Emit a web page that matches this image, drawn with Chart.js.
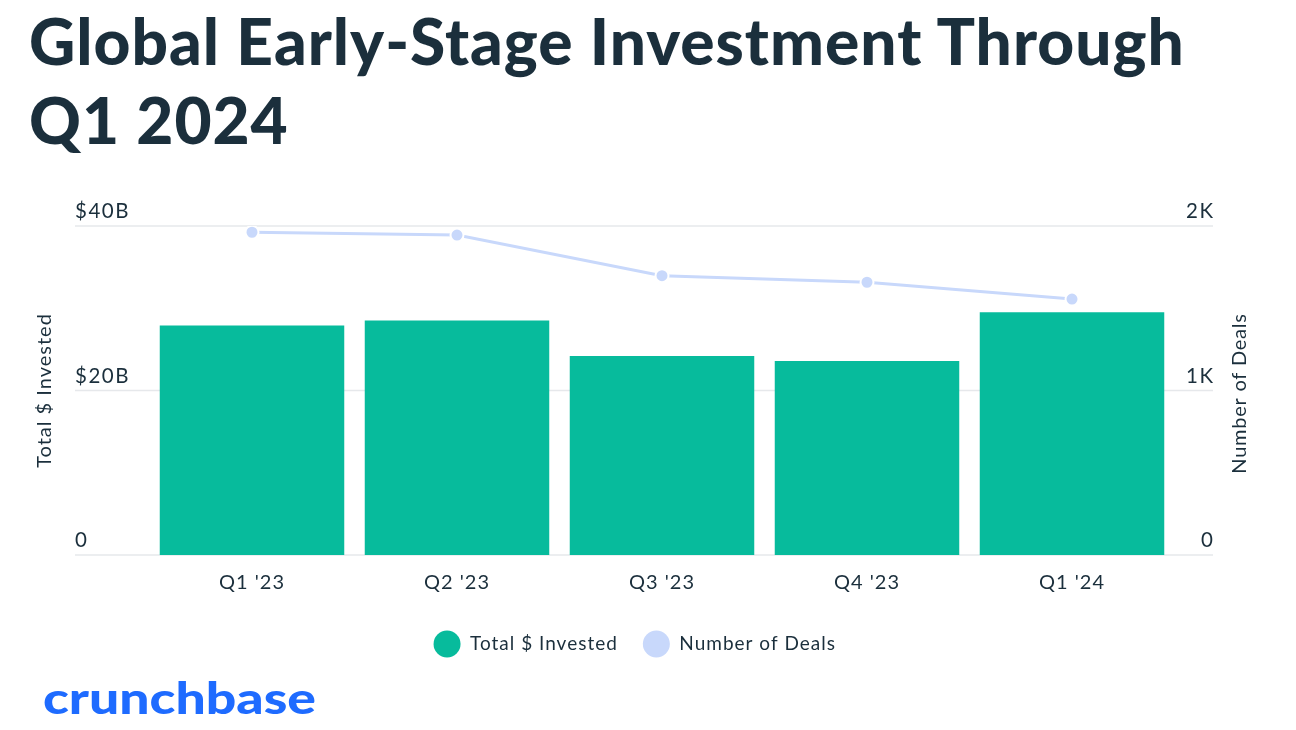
<!DOCTYPE html>
<html>
<head>
<meta charset="utf-8">
<script src="https://cdn.jsdelivr.net/npm/chart.js@4.4.1/dist/chart.umd.min.js"></script>
<style>
  html, body { margin: 0; padding: 0; background: #ffffff; }
  body { width: 1296px; height: 730px; position: relative; overflow: hidden; font-family: Lato, "Open Sans", sans-serif; }
  #title { position: absolute; left: 29px; top: 1px; margin: 0; font-family: Lato, sans-serif; font-weight: 900; font-size: 64px; line-height: 79px; letter-spacing: 1px; color: #1b2f3c; white-space: nowrap; z-index: 2; }
  #logo { position: absolute; left: 43px; top: 672px; font-family: Lato, sans-serif; font-weight: 900; font-size: 43px; color: #1e6bff; transform-origin: left center; white-space: nowrap; z-index: 2; }
  #wrap { position: absolute; left: 0; top: 0; width: 1296px; height: 730px; z-index: 1; }
</style>
</head>
<body>
<h1 id="title">Global Early-Stage Investment Through<br>Q1 2024</h1>
<div id="wrap"><canvas id="c" width="1296" height="730"></canvas></div>
<div id="logo">crunchbase</div>
<script>
// ---- data ----
const categories = ["Q1 '23", "Q2 '23", "Q3 '23", "Q4 '23", "Q1 '24"];
const investedBillions = [27.9, 28.5, 24.2, 23.6, 29.5];
const dealCounts = [1962, 1945, 1698, 1658, 1556];
const leftTickLabels = { 0: "0", 20: "$20B", 40: "$40B" };
const rightTickLabels = { 0: "0", 1000: "1K", 2000: "2K" };
const seriesNames = ["Total $ Invested", "Number of Deals"];

const TEXT = '#1b2f3c';
const GRID = '#e6e8eb';
const BAR = '#07bb9c';
const LINE = '#c8d8fb';

const spacing = {
  id: 'spacing',
  beforeUpdate(chart) { chart.ctx.letterSpacing = '1px'; },
  beforeDraw(chart) { chart.ctx.letterSpacing = '1px'; }
};

const extGrid = {
  id: 'extGrid',
  beforeDatasetsDraw(chart) {
    const ctx = chart.ctx;
    const yL = chart.scales.y, yR = chart.scales.y1;
    ctx.save();
    ctx.strokeStyle = GRID;
    ctx.lineWidth = 1.5;
    yL.ticks.forEach(t => {
      const py = yL.getPixelForValue(t.value);
      ctx.beginPath(); ctx.moveTo(75, py); ctx.lineTo(1213, py); ctx.stroke();
    });
    ctx.fillStyle = TEXT;
    ctx.font = '20.5px Lato';
    ctx.letterSpacing = '1.5px';
    ctx.textBaseline = 'alphabetic';
    ctx.textAlign = 'left';
    yL.ticks.forEach(t => {
      ctx.fillText(leftTickLabels[t.value] ?? String(t.value), 75, yL.getPixelForValue(t.value) - 8);
    });
    ctx.textAlign = 'right';
    yR.ticks.forEach(t => {
      ctx.fillText(rightTickLabels[t.value] ?? String(t.value), 1213 + 1.5, yR.getPixelForValue(t.value) - 8);
    });
    // right axis title (reads bottom-to-top)
    ctx.save();
    ctx.translate(1240, (yR.top + yR.bottom) / 2 + 3);
    ctx.rotate(-Math.PI / 2);
    ctx.textAlign = 'center';
    ctx.textBaseline = 'middle';
    ctx.letterSpacing = '0.75px';
    ctx.font = '20px Lato';
    ctx.fillText(seriesNames[1], 0, 0);
    ctx.restore();
    ctx.restore();
  }
};

const chart = new Chart(document.getElementById('c'), {
  data: {
    labels: categories,
    datasets: [
      {
        type: 'bar',
        label: seriesNames[0],
        data: investedBillions,
        backgroundColor: BAR,
        borderWidth: 0,
        yAxisID: 'y',
        order: 1,
        barPercentage: 0.9,
        categoryPercentage: 1.0
      },
      {
        type: 'line',
        label: seriesNames[1],
        data: dealCounts,
        borderColor: LINE,
        backgroundColor: LINE,
        borderWidth: 3,
        pointRadius: 6.5,
        pointHoverRadius: 6.5,
        pointBackgroundColor: LINE,
        pointBorderColor: '#ffffff',
        pointBorderWidth: 2,
        tension: 0,
        yAxisID: 'y1',
        order: 0
      }
    ]
  },
  options: {
    responsive: false,
    animation: false,
    devicePixelRatio: 1,
    layout: { padding: { top: 226, left: 0, right: 26.5, bottom: 62.5 } },
    plugins: {
      tooltip: { enabled: false },
      legend: {
        position: 'bottom',
        labels: {
          color: TEXT,
          font: { family: 'Lato', size: 19 },
          boxWidth: 27,
          boxHeight: 27,
          useBorderRadius: true,
          borderRadius: 13.5,
          padding: 25,
          sort: (a, b) => a.datasetIndex - b.datasetIndex,
          generateLabels(chart) {
            const items = Chart.defaults.plugins.legend.labels.generateLabels(chart);
            return items.map(it => Object.assign(it, { lineWidth: 0, strokeStyle: 'rgba(0,0,0,0)', borderRadius: 13.5 }));
          }
        }
      }
    },
    scales: {
      x: {
        type: 'category',
        offset: true,
        grid: { display: false },
        border: { display: false },
        ticks: { color: TEXT, font: { family: 'Lato', size: 20 }, padding: 8, maxRotation: 0 },
        afterFit(s) { s.height = 50.5; }
      },
      y: {
        position: 'left',
        min: 0, max: 40,
        ticks: { stepSize: 20, display: false },
        grid: { display: false },
        border: { display: false },
        title: { display: true, text: seriesNames[0], color: TEXT, font: { family: 'Lato', size: 20 }, padding: { top: 33, bottom: 0 } },
        afterFit(s) { s.width = 149.5; }
      },
      y1: {
        position: 'right',
        min: 0, max: 2000,
        ticks: { stepSize: 1000, display: false },
        grid: { display: false },
        border: { display: false },
        afterFit(s) { s.width = 95; }
      }
    }
  },
  plugins: [spacing, extGrid]
});

// fit logo text width to the reference span
const logo = document.getElementById('logo');
const w = logo.getBoundingClientRect().width;
logo.style.transform = 'scaleX(' + (273 / w) + ')';
</script>
</body>
</html>
